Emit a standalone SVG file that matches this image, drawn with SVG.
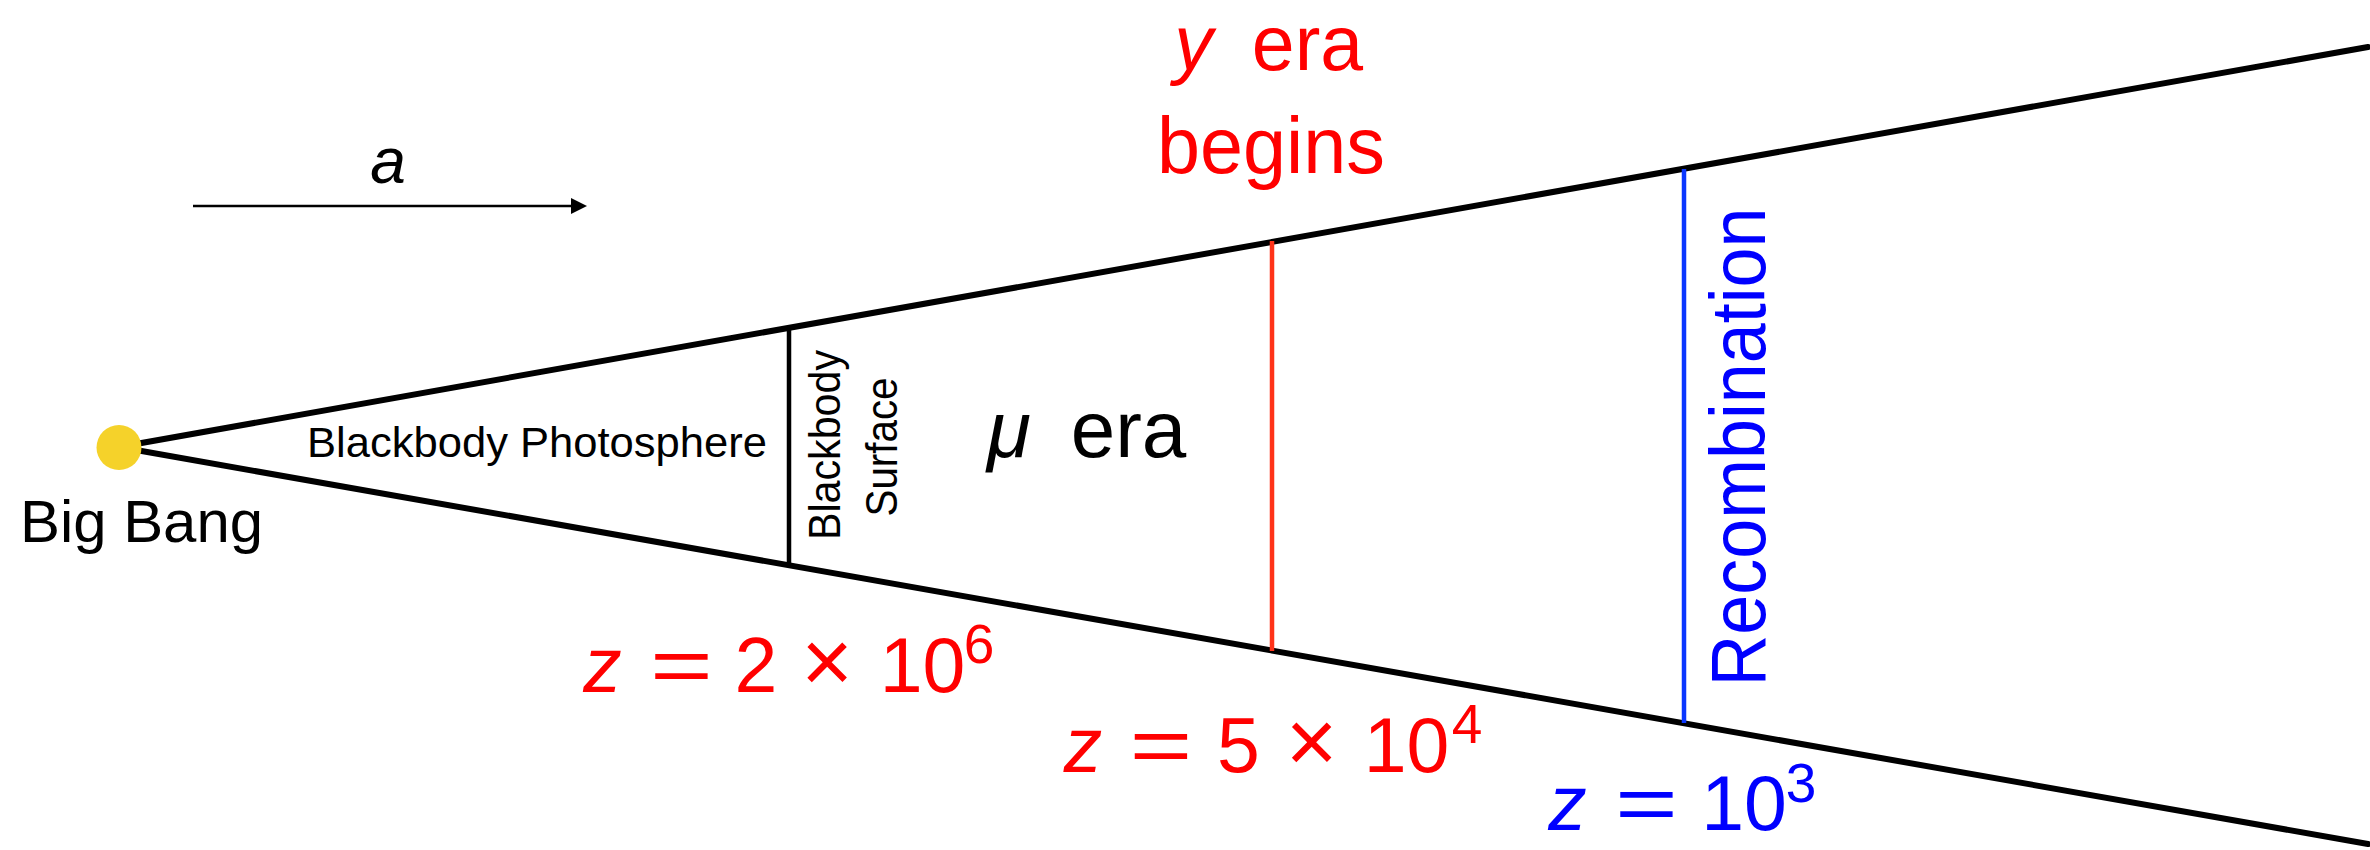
<svg xmlns="http://www.w3.org/2000/svg" width="2370" height="850" viewBox="0 0 2370 850">
  <style>
    .sans { font-family: "Liberation Sans", Arial, sans-serif; }
    .it { font-style: italic; }
    .red { fill: #ff0000; }
    .blue { fill: #0000ff; }
    .blk { fill: #000000; }
    .mid { text-anchor: middle; }
    .edge { stroke: #000; stroke-width: 6; fill: none; stroke-linecap: round; }
  </style>
  <defs>
    <marker id="arrowhead" markerUnits="userSpaceOnUse" markerWidth="18" markerHeight="18" refX="0" refY="8" orient="auto">
      <polygon points="0,0 16,8 0,16" fill="#000"/>
    </marker>
  </defs>
  <rect width="2370" height="850" fill="#ffffff"/>

  <g id="connectors">
    <line class="edge" x1="119" y1="447" x2="2368" y2="47"/>
    <line class="edge" x1="119" y1="447" x2="2368" y2="844"/>
    <line x1="789" y1="328" x2="789" y2="566" stroke="#000" stroke-width="4.5"/>
    <line x1="1272" y1="241" x2="1272" y2="651" stroke="#ff3319" stroke-width="4.5"/>
    <line x1="1684" y1="169" x2="1684" y2="723" stroke="#0a36ff" stroke-width="4.5"/>
    <line x1="193" y1="206" x2="571" y2="206" stroke="#000" stroke-width="2.5" marker-end="url(#arrowhead)"/>
  </g>

  <g id="big-bang">
    <circle cx="119" cy="447.5" r="22.5" fill="#f5d22a"/>
    <text class="sans blk" x="20" y="542" font-size="60" textLength="243" lengthAdjust="spacingAndGlyphs">Big Bang</text>
  </g>

  <g id="scale-factor">
    <text class="sans it blk mid" x="388" y="183" font-size="64">a</text>
  </g>

  <g id="blackbody-photosphere">
    <text class="sans blk" x="307" y="457" font-size="43" textLength="460" lengthAdjust="spacingAndGlyphs">Blackbody Photosphere</text>
  </g>

  <g id="blackbody-surface">
    <text class="sans blk mid" font-size="44" transform="translate(840,445) rotate(-90)" x="0" y="0" textLength="190" lengthAdjust="spacingAndGlyphs">Blackbody</text>
    <text class="sans blk mid" font-size="44" transform="translate(897,447) rotate(-90)" x="0" y="0" textLength="139" lengthAdjust="spacingAndGlyphs">Surface</text>
  </g>

  <g id="mu-era">
    <text class="sans it blk mid" x="1009" y="457" font-size="80">μ</text>
    <text class="sans blk mid" x="1128.5" y="457" font-size="80">era</text>
  </g>

  <g id="y-era">
    <text class="sans it red mid" x="1193.5" y="70" font-size="77">y</text>
    <text class="sans red mid" x="1307.5" y="70" font-size="77">era</text>
    <text class="sans red mid" x="1271" y="173" font-size="80" textLength="228" lengthAdjust="spacingAndGlyphs">begins</text>
  </g>

  <g id="recombination">
    <text class="sans blue mid" font-size="78" transform="translate(1765,447) rotate(-90)" x="0" y="0" textLength="479" lengthAdjust="spacingAndGlyphs">Recombination</text>
  </g>

  <g id="z-2e6" class="sans red">
    <text class="it mid" x="602.5" y="692" font-size="77">z</text>
    <text class="mid" transform="translate(681.5,692) scale(1.4,1)" font-size="77">=</text>
    <text class="mid" x="756" y="692" font-size="77">2</text>
    <text class="mid" transform="translate(827,692) scale(1.15)" font-size="77">×</text>
    <text class="mid" x="922.5" y="692" font-size="77">10</text>
    <text class="mid" x="979" y="663" font-size="55">6</text>
  </g>

  <g id="z-5e4" class="sans red">
    <text class="it mid" x="1083" y="772" font-size="77">z</text>
    <text class="mid" transform="translate(1161,772) scale(1.4,1)" font-size="77">=</text>
    <text class="mid" x="1238.5" y="772" font-size="77">5</text>
    <text class="mid" transform="translate(1311.5,772) scale(1.15)" font-size="77">×</text>
    <text class="mid" x="1406.5" y="772" font-size="77">10</text>
    <text class="mid" x="1467" y="743" font-size="55">4</text>
  </g>

  <g id="z-1e3" class="sans blue">
    <text class="it mid" x="1567.5" y="830" font-size="77">z</text>
    <text class="mid" transform="translate(1646.5,830) scale(1.4,1)" font-size="77">=</text>
    <text class="mid" x="1744" y="830" font-size="77">10</text>
    <text class="mid" x="1801" y="802" font-size="55">3</text>
  </g>
</svg>
